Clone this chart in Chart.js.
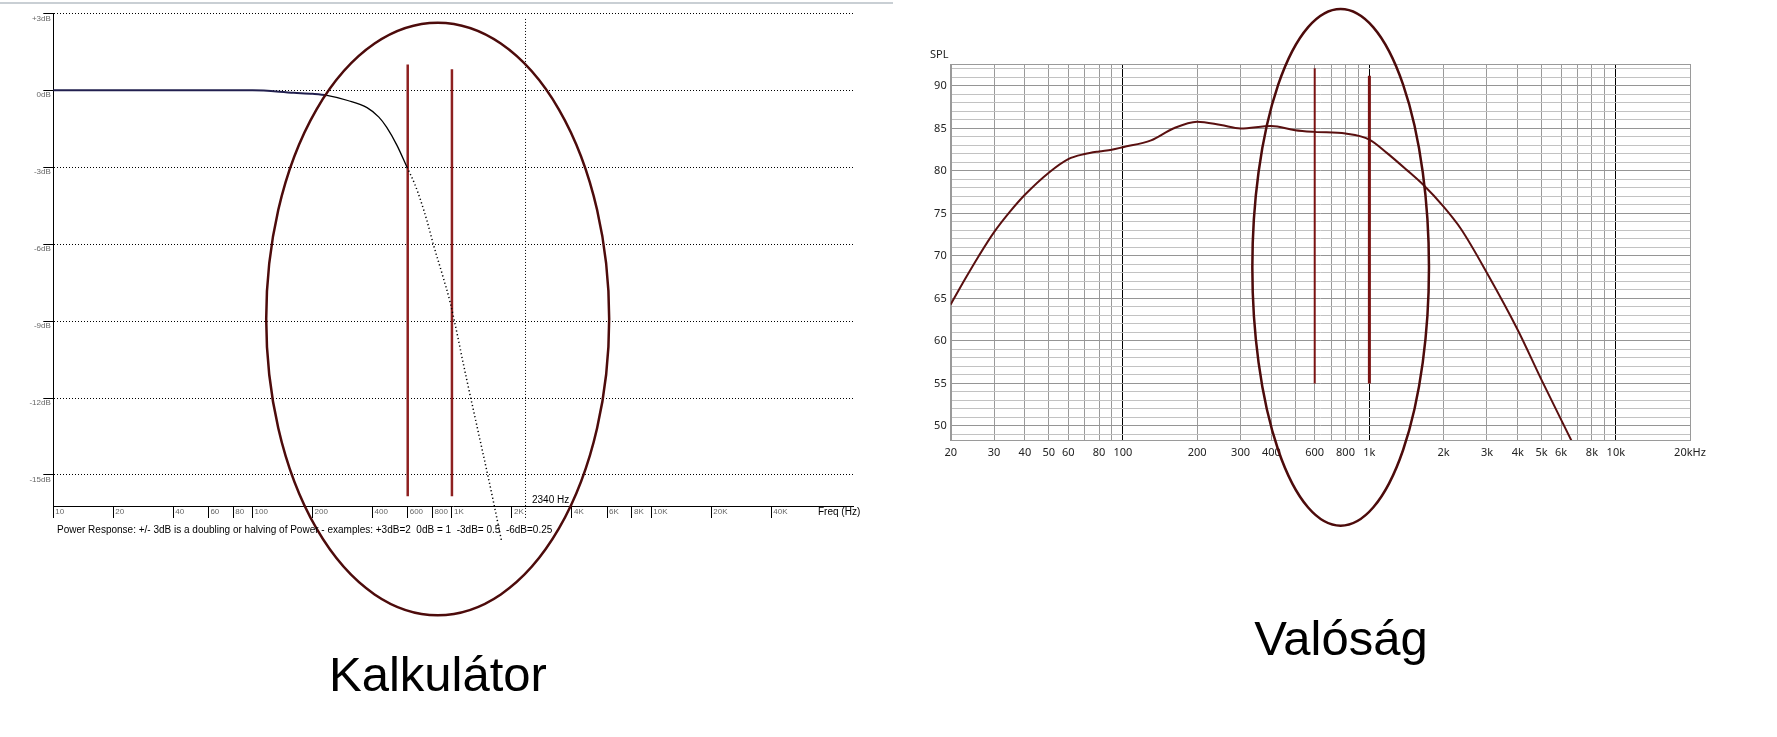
<!DOCTYPE html>
<html lang="hu">
<head>
<meta charset="utf-8" />
<title>Kalkulátor és valóság</title>
<script src="https://cdn.jsdelivr.net/npm/chart.js@4.4.1/dist/chart.umd.min.js"></script>
<style>
  * { margin: 0; padding: 0; box-sizing: border-box; }
  body {
    width: 1777px; height: 737px; position: relative; overflow: hidden;
    background: #fff; font-family: "Liberation Sans", Arial, sans-serif; color: #000;
  }
  .topbar { position: absolute; left: 0; top: 2px; width: 893px; height: 2px; background: #c9cfd4; }
  canvas { position: absolute; top: 0; }
  #calc { left: 0; }
  #real { left: 890px; }
  .note { position: absolute; font-size: 10px; line-height: 10px; white-space: pre; }
  .caption { position: absolute; font-size: 49px; line-height: 49px; white-space: nowrap; transform: translateX(-50%); }
  .spl { position: absolute; left: 930px; top: 48px; font: 11px/11px "Noto Sans", sans-serif; color: #222; }
</style>
</head>
<body>
  <div class="topbar"></div>
  <canvas id="calc" width="890" height="737"></canvas>
  <canvas id="real" width="887" height="737"></canvas>

  <div class="note" style="left:532px; top:495px;">2340 Hz</div>
  <div class="note" style="left:818px; top:507px;">Freq (Hz)</div>
  <div class="note" style="left:57px; top:525px;">Power Response: +/- 3dB is a doubling or halving of Power - examples: +3dB=2  0dB = 1  -3dB= 0.5  -6dB=0.25</div>
  <div class="spl">SPL</div>
  <div class="caption" style="left:438px; top:650px;">Kalkulátor</div>
  <div class="caption" style="left:1341px; top:614px;">Valóság</div>

<script>
// ---- Kalkulátor (bal oldali grafikon) ----
const calcFreq = [10, 50, 100, 161, 200, 236, 300, 375, 430, 471, 530, 595, 650, 697, 750, 806, 900, 978, 1180, 1380, 1512, 1631, 1777];
const calcDb = [0, 0, 0, -0.1, -0.14, -0.2, -0.4, -0.68, -1.05, -1.45, -2.15, -3.0, -3.65, -4.3, -5.1, -6.0, -7.25, -8.25, -11.2, -13.6, -15.0, -16.2, -17.6];
const calcMarkFreq = [600, 1000];
const calcMarkTop = [1.0, 0.82];
const calcMarkBottom = [-15.83, -15.83];
const calcCutFreq = 2340;
const calcCutSpan = [2.78, -16.7];
const calcTickFreq = [10, 20, 40, 60, 80, 100, 200, 400, 600, 800, 1000, 2000, 4000, 6000, 8000, 10000, 20000, 40000];
const calcTickText = ["10", "20", "40", "60", "80", "100", "200", "400", "600", "800", "1K", "2K", "4K", "6K", "8K", "10K", "20K", "40K"];
const calcDbTicks = [3, 0, -3, -6, -9, -12, -15];
const calcDbText = ["+3dB", "0dB", "-3dB", "-6dB", "-9dB", "-12dB", "-15dB"];
const calcRing = { left: 117, right: 6150, top: 2.63, bottom: -20.47 };

// ---- Valóság (jobb oldali grafikon) ----
const realFreq = [20, 23, 26, 30, 35, 40, 50, 60, 70, 80, 90, 100, 130, 160, 200, 250, 300, 400, 500, 600, 800, 1000, 1180, 1420, 1650, 2000, 2350, 3000, 4000, 5000, 6600];
const realSpl = [64.3, 67.4, 70.0, 72.8, 75.3, 77.2, 79.8, 81.4, 82.0, 82.3, 82.5, 82.8, 83.6, 85.0, 85.8, 85.4, 85.0, 85.3, 84.8, 84.6, 84.4, 83.7, 82.1, 80.1, 78.4, 75.8, 73.2, 68.0, 61.3, 55.4, 48.3];
const realMarkFreq = [600, 1000];
const realMarkTop = [92.1, 91.2];
const realMarkBottom = [55, 55];
const realGridFreq = [20, 30, 40, 50, 60, 70, 80, 90, 100, 200, 300, 400, 500, 600, 700, 800, 900,
  1000, 2000, 3000, 4000, 5000, 6000, 7000, 8000, 9000, 10000, 20000];
const realTickFreq = [20, 30, 40, 50, 60, 80, 100, 200, 300, 400, 600, 800, 1000, 2000, 3000, 4000, 5000, 6000, 8000, 10000, 20000];
const realTickText = ["20", "30", "40", "50", "60", "80", "100", "200", "300", "400", "600", "800", "1k", "2k", "3k", "4k", "5k", "6k", "8k", "10k", "20kHz"];
const realSplLabels = [50, 55, 60, 65, 70, 75, 80, 85, 90];
const realRing = { left: 335, right: 1745, top: 99.06, bottom: 38.27 };

const ringColor = "#4d0b0b";

// draws the hand-drawn style ellipse around a frequency/level box
const ringPlugin = {
  id: "ring",
  afterDraw(chart, args, opts) {
    const r = opts.box;
    if (!r) return;
    const sx = chart.scales.x, sy = chart.scales.y;
    const x1 = sx.getPixelForValue(r.left), x2 = sx.getPixelForValue(r.right);
    const y1 = sy.getPixelForValue(r.top), y2 = sy.getPixelForValue(r.bottom);
    const ctx = chart.ctx;
    ctx.save();
    ctx.strokeStyle = opts.color;
    ctx.lineWidth = opts.width;
    ctx.beginPath();
    ctx.ellipse((x1 + x2) / 2, (y1 + y2) / 2, (x2 - x1) / 2, (y2 - y1) / 2, 0, 0, Math.PI * 2);
    ctx.stroke();
    ctx.restore();
  }
};

// gray frame round the plot area
const framePlugin = {
  id: "frame",
  beforeDatasetsDraw(chart, args, opts) {
    if (!opts.color) return;
    const a = chart.chartArea, ctx = chart.ctx;
    ctx.save();
    ctx.strokeStyle = opts.color;
    ctx.lineWidth = 1;
    ctx.strokeRect(Math.round(a.left) + 0.5, Math.round(a.top) + 0.5, Math.round(a.right - a.left), Math.round(a.bottom - a.top));
    ctx.restore();
  }
};

const vline = (f, top, bottom) => [{ x: f, y: top }, { x: f, y: bottom }];

// ---------- left chart ----------
new Chart(document.getElementById("calc"), {
  type: "scatter",
  data: {
    datasets: [
      {
        data: calcFreq.map((f, i) => ({ x: f, y: calcDb[i] })),
        showLine: true, pointRadius: 0, borderWidth: 1.3, borderColor: "#000",
        cubicInterpolationMode: "monotone", clip: false,
        segment: {
          borderColor: c => (c.p0.parsed.x < 236 ? "#22204f" : undefined),
          borderWidth: c => (c.p0.parsed.x < 236 ? 2 : (c.p0.parsed.x >= 595 ? 1.5 : undefined)),
          borderDash: c => (c.p0.parsed.x >= 595 ? [1.2, 2.6] : undefined)
        }
      },
      ...calcMarkFreq.map((f, i) => ({
        data: vline(f, calcMarkTop[i], calcMarkBottom[i]),
        showLine: true, pointRadius: 0, borderWidth: 2.5, borderColor: "#8e2020"
      })),
      {
        data: vline(calcCutFreq, calcCutSpan[0], calcCutSpan[1]),
        showLine: true, pointRadius: 0, borderWidth: 1, borderColor: "#000",
        borderDash: [1, 2], clip: false
      }
    ]
  },
  options: {
    responsive: false, animation: false,
    layout: { padding: { left: 0, top: 13.3, right: 36.7, bottom: 201 } },
    plugins: {
      legend: { display: false }, tooltip: { enabled: false },
      ring: { box: calcRing, color: ringColor, width: 2.5 },
      frame: {}
    },
    scales: {
      x: {
        type: "logarithmic", min: 10, max: 103200,
        afterBuildTicks: s => { s.ticks = calcTickFreq.map(v => ({ value: v })); },
        afterFit: s => { s.height = 30; },
        grid: { drawOnChartArea: false, drawTicks: true, tickLength: 12, color: "#000" },
        border: { display: true, color: "#000" },
        ticks: {
          autoSkip: false, maxRotation: 0, align: "start", labelOffset: 2, padding: -11,
          color: "#666", font: { family: "Liberation Sans", size: 8 },
          callback: (v, i) => calcTickText[i]
        }
      },
      y: {
        min: -16.21, max: 3,
        afterBuildTicks: s => { s.ticks = calcDbTicks.map(v => ({ value: v })); },
        afterFit: s => { s.width = 53.3; },
        grid: { color: "#000", drawTicks: true, tickLength: 10, tickColor: "#000" },
        border: { display: true, color: "#000", dash: [1, 2] },
        ticks: {
          labelOffset: 5, padding: -7.5, color: "#666",
          font: { family: "Liberation Sans", size: 8 },
          callback: (v, i) => calcDbText[i]
        }
      }
    }
  },
  plugins: [ringPlugin, framePlugin]
});

// ---------- right chart ----------
new Chart(document.getElementById("real"), {
  type: "scatter",
  data: {
    datasets: [
      {
        data: realFreq.map((f, i) => ({ x: f, y: realSpl[i] })),
        showLine: true, pointRadius: 0, borderWidth: 2, borderColor: "#5a1010",
        cubicInterpolationMode: "monotone"
      },
      ...realMarkFreq.map((f, i) => ({
        data: vline(f, realMarkTop[i], realMarkBottom[i]),
        showLine: true, pointRadius: 0, borderWidth: i === 0 ? 2 : 3, borderColor: "#7a1212"
      }))
    ]
  },
  options: {
    responsive: false, animation: false,
    layout: { padding: { left: 0, top: 64.3, right: 87, bottom: 267 } },
    plugins: {
      legend: { display: false }, tooltip: { enabled: false },
      ring: { box: realRing, color: ringColor, width: 2.5 },
      frame: { color: "#9a9a9a" }
    },
    scales: {
      x: {
        type: "logarithmic", min: 20, max: 20000,
        afterBuildTicks: s => { s.ticks = realGridFreq.map(v => ({ value: v })); },
        afterFit: s => { s.height = 30; },
        grid: {
          drawTicks: false,
          color: c => ([100, 1000, 10000].includes(c.tick && c.tick.value) ? "#000" : "#9a9a9a")
        },
        border: { display: true, color: "#9a9a9a" },
        ticks: {
          autoSkip: false, maxRotation: 0, padding: 6, color: "#222",
          font: { family: "Noto Sans", size: 11 },
          callback: v => {
            const i = realTickFreq.indexOf(v);
            return i < 0 ? "" : realTickText[i];
          }
        }
      },
      y: {
        min: 48.35, max: 92.55,
        afterBuildTicks: s => {
          const t = [];
          for (let v = 49; v <= 92; v++) t.push({ value: v });
          s.ticks = t;
        },
        afterFit: s => { s.width = 60.7; },
        grid: {
          drawTicks: false,
          color: c => (c.tick && c.tick.value % 5 === 0 ? "#959595" : "#c2c2c2")
        },
        border: { display: true, color: "#9a9a9a" },
        ticks: {
          autoSkip: false, padding: 4, color: "#222",
          font: { family: "Noto Sans", size: 11 },
          callback: v => (realSplLabels.includes(v) ? String(v) : "")
        }
      }
    }
  },
  plugins: [ringPlugin, framePlugin]
});
</script>
</body>
</html>
